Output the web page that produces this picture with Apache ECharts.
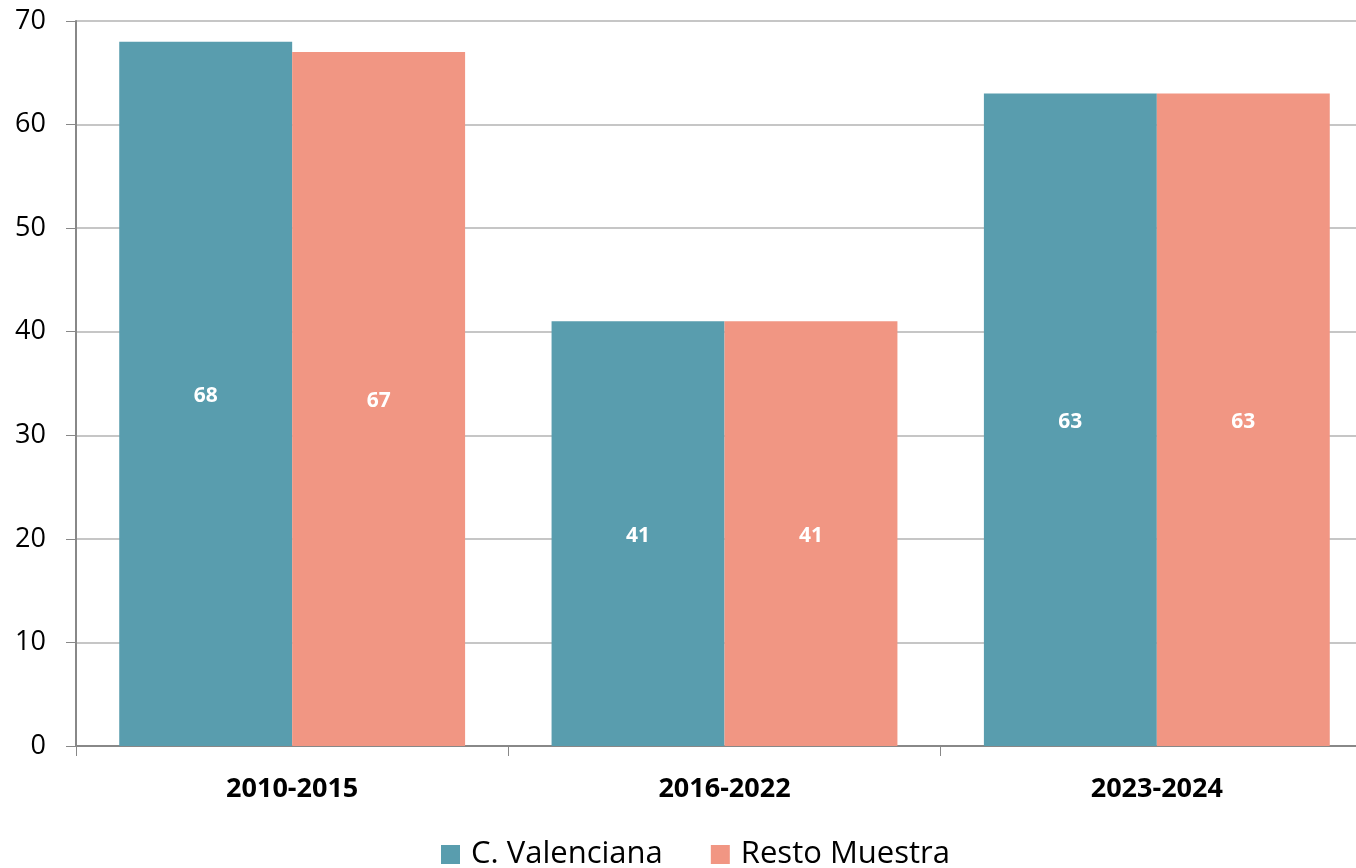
<!DOCTYPE html>
<html lang="es">
<head>
    <meta charset="UTF-8">
    <title>C. Valenciana vs Resto Muestra</title>
    <style>
        html, body { margin: 0; padding: 0; background: #fff; }
        #main { width: 1356px; height: 868px; }
    </style>
    <script src="https://cdn.jsdelivr.net/npm/echarts@6/dist/echarts.min.js"></script>
</head>
<body>
    <div id="main"></div>
    <script>
        // datos
        var periodos = ['2010-2015', '2016-2022', '2023-2024'];
        var valenciana = [68, 41, 63];
        var restoMuestra = [67, 41, 63];
        var nombres = ['C. Valenciana', 'Resto Muestra'];

        var fuente = '"Open Sans", "Liberation Sans", sans-serif';

        var chart = echarts.init(document.getElementById('main'));

        var etiqueta = {
            show: true,
            position: 'inside',
            offset: [0, 2],
            color: '#fff',
            fontFamily: fuente,
            fontWeight: 'bold',
            fontSize: 21
        };

        var option = {
            animation: false,
            textStyle: { fontFamily: fuente },
            // el area del grafico sobresale un poco por la derecha
            grid: {
                left: 76, top: 21, width: 1297, height: 725,
                outerBoundsMode: 'none'
            },
            legend: {
                data: nombres,
                left: 436,
                top: 834,
                itemWidth: 19,
                itemHeight: 19,
                itemGap: 48,
                icon: 'rect',
                textStyle: {
                    fontSize: 31, color: '#000', fontFamily: fuente,
                    padding: [0, 0, 0, 6]
                }
            },
            xAxis: {
                type: 'category',
                data: periodos,
                axisLine: { lineStyle: { color: '#888', width: 2 } },
                axisTick: { show: true, length: 10, lineStyle: { color: '#888', width: 1 } },
                axisLabel: {
                    color: '#000',
                    fontSize: 27,
                    fontWeight: 'bold',
                    margin: 30
                }
            },
            yAxis: {
                type: 'value',
                min: 0,
                max: 70,
                interval: 10,
                axisLine: { show: true, lineStyle: { color: '#888', width: 2 } },
                axisTick: { show: true, length: 10, lineStyle: { color: '#888' } },
                splitLine: { lineStyle: { color: '#c6c6c6', width: 2 } },
                axisLabel: { color: '#000', fontSize: 27, margin: 30 }
            },
            series: [
                {
                    name: nombres[0],
                    type: 'bar',
                    data: valenciana,
                    barGap: '0%',
                    barCategoryGap: '20%',
                    itemStyle: { color: '#599dae' },
                    label: etiqueta
                },
                {
                    name: nombres[1],
                    type: 'bar',
                    data: restoMuestra,
                    itemStyle: { color: '#f19683' },
                    label: etiqueta
                }
            ]
        };

        chart.setOption(option);
    </script>
</body>
</html>
